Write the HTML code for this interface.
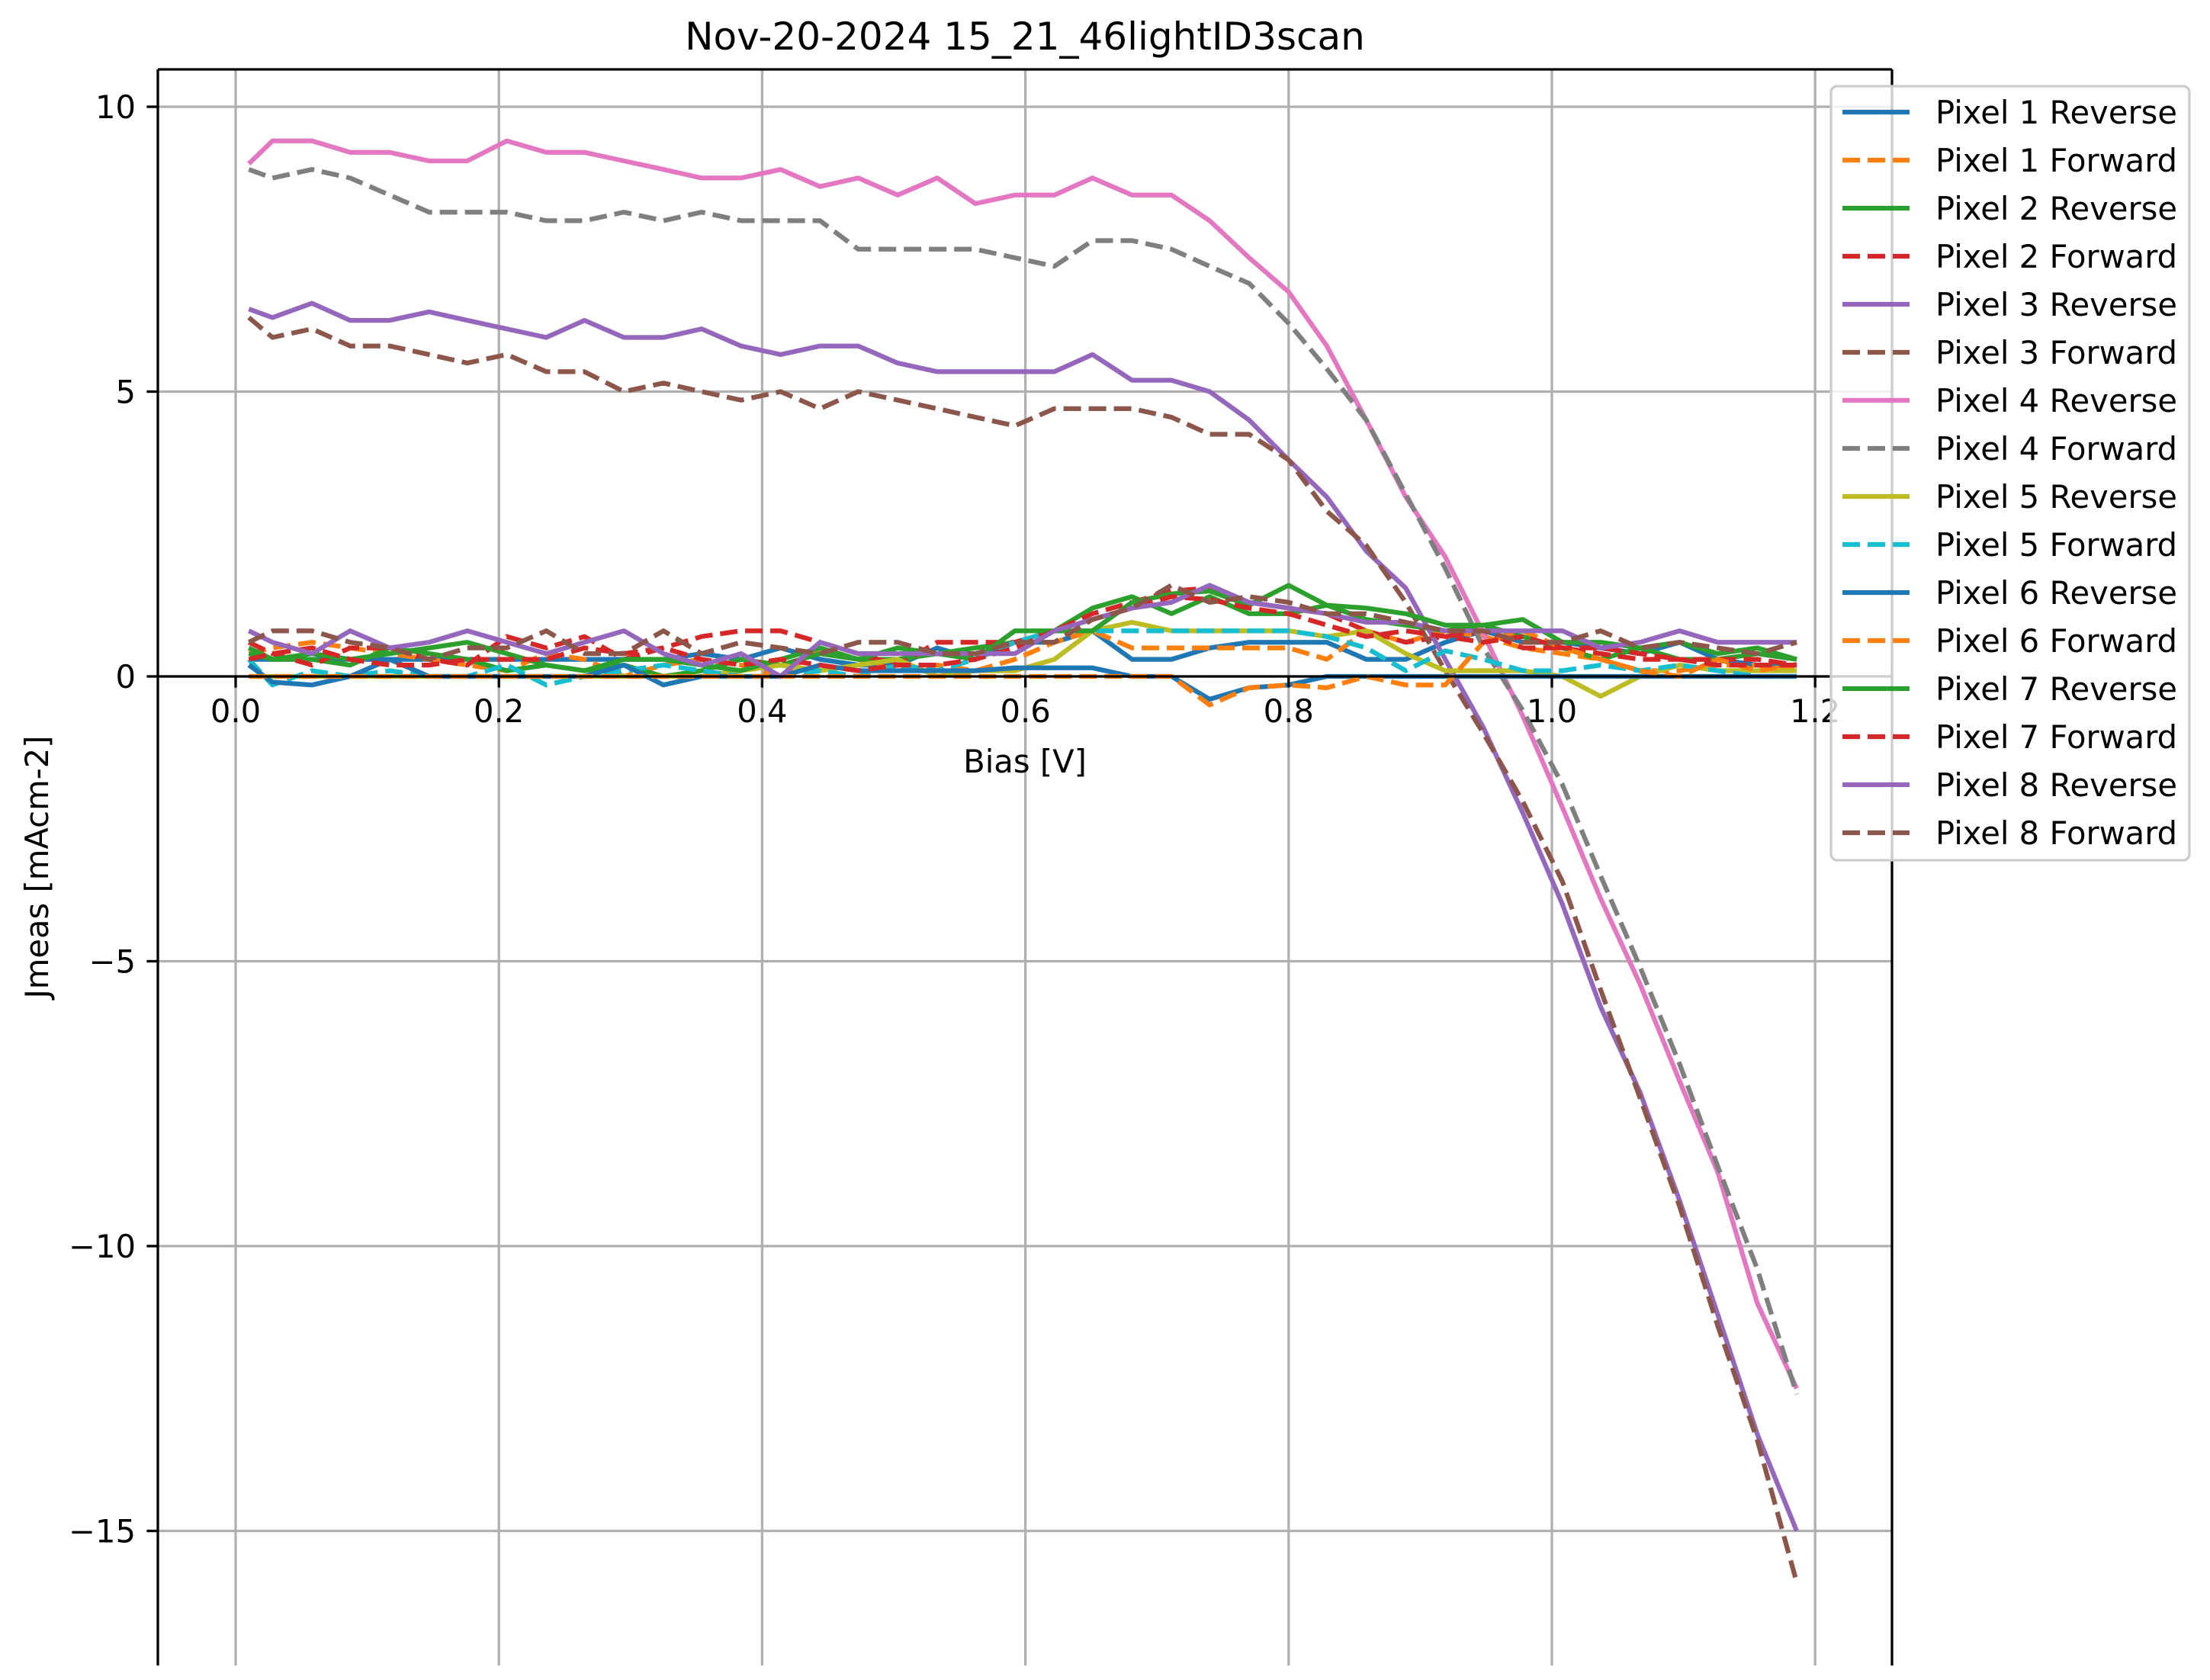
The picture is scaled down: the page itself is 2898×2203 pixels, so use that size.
<!DOCTYPE html>
<html><head><meta charset="utf-8"><style>
html,body{margin:0;padding:0;background:#fff;}
svg{display:block;font-family:"DejaVu Sans","Liberation Sans",sans-serif;}
</style></head><body>
<svg id="chart" width="2898" height="2203" viewBox="0 0 2898 2203" xmlns="http://www.w3.org/2000/svg"></svg>
<script>
const biasV=[0.01,0.028,0.058,0.087,0.117,0.147,0.176,0.206,0.236,0.265,0.295,0.325,0.354,0.384,0.414,0.444,0.473,0.503,0.533,0.562,0.592,0.622,0.651,0.681,0.711,0.740,0.770,0.800,0.829,0.859,0.889,0.919,0.948,0.978,1.008,1.037,1.067,1.097,1.126,1.156,1.186];
const p1Rev=[0.3,0.3,0.3,0.3,0.3,0.3,0.3,0.3,0.3,0.3,0.3,0.3,0.4,0.3,0.5,0.3,0.2,0.2,0.5,0.3,0.6,0.6,0.8,0.3,0.3,0.5,0.6,0.6,0.6,0.3,0.3,0.6,0.8,0.6,0.6,0.5,0.4,0.6,0.3,0.2,0.2];
const p1Fwd=[0.4,0.5,0.6,0.5,0.4,0.3,0.2,0.1,0.4,0.3,0.0,0.2,0.3,0.2,0.0,0.5,0.3,0.1,0.2,0.1,0.3,0.6,0.8,0.5,0.5,0.5,0.5,0.5,0.3,0.8,0.6,0.8,0.7,0.5,0.4,0.3,0.1,0.1,0.2,0.2,0.1];
const p2Rev=[0.4,0.3,0.3,0.2,0.5,0.4,0.3,0.1,0.2,0.1,0.2,0.0,0.1,0.3,0.2,0.4,0.3,0.3,0.4,0.5,0.6,0.8,1.2,1.4,1.1,1.4,1.1,1.1,1.25,1.0,0.9,0.8,0.9,0.7,0.5,0.3,0.5,0.3,0.3,0.4,0.3];
const p2Fwd=[0.6,0.4,0.2,0.5,0.5,0.3,0.2,0.7,0.5,0.7,0.3,0.5,0.7,0.8,0.8,0.6,0.4,0.2,0.6,0.6,0.6,0.8,1.1,1.3,1.5,1.55,1.3,1.2,1.1,0.8,0.6,0.7,0.8,0.5,0.5,0.4,0.3,0.3,0.3,0.3,0.2];
const p3Rev=[6.45,6.3,6.55,6.25,6.25,6.4,6.25,6.1,5.95,6.25,5.95,5.95,6.1,5.8,5.65,5.8,5.8,5.5,5.35,5.35,5.35,5.35,5.65,5.2,5.2,5.0,4.5,3.8,3.15,2.2,1.55,0.3,-0.9,-2.4,-4.0,-5.8,-7.3,-9.2,-11.2,-13.3,-15.0];
const p3Fwd=[6.3,5.95,6.1,5.8,5.8,5.65,5.5,5.65,5.35,5.35,5.0,5.15,5.0,4.85,5.0,4.7,5.0,4.85,4.7,4.55,4.4,4.7,4.7,4.7,4.55,4.25,4.25,3.8,2.9,2.3,1.3,0.1,-1.0,-2.2,-3.6,-5.5,-7.4,-9.3,-11.4,-13.4,-15.9];
const p4Rev=[9.0,9.4,9.4,9.2,9.2,9.05,9.05,9.4,9.2,9.2,9.05,8.9,8.75,8.75,8.9,8.6,8.75,8.45,8.75,8.3,8.45,8.45,8.75,8.45,8.45,8.0,7.35,6.75,5.8,4.5,3.15,2.1,0.75,-0.7,-2.3,-3.9,-5.4,-7.1,-8.7,-11.0,-12.5];
const p4Fwd=[8.9,8.75,8.9,8.75,8.45,8.15,8.15,8.15,8.0,8.0,8.15,8.0,8.15,8.0,8.0,8.0,7.5,7.5,7.5,7.5,7.35,7.2,7.65,7.65,7.5,7.2,6.9,6.2,5.4,4.5,3.2,1.9,0.5,-0.6,-1.9,-3.5,-5.1,-6.8,-8.6,-10.4,-12.6];
const p5Rev=[0.0,0.0,0.0,0.0,0.0,0.0,0.0,0.0,0.0,0.0,0.0,0.0,0.0,0.1,0.2,0.1,0.2,0.3,0.0,0.1,0.1,0.3,0.8,0.95,0.8,0.8,0.8,0.8,0.7,0.8,0.4,0.1,0.1,0.1,0.0,-0.35,0.0,0.2,0.1,0.1,0.1];
const p5Fwd=[0.3,-0.15,0.1,0.0,0.1,0.0,0.0,0.2,-0.15,0.0,0.1,0.2,0.1,0.0,0.0,0.1,0.0,0.2,0.1,0.3,0.6,0.8,0.8,0.8,0.8,0.8,0.8,0.8,0.7,0.5,0.1,0.45,0.3,0.1,0.1,0.2,0.1,0.2,0.1,0.0,0.0];
const p6Rev=[0.2,-0.1,-0.15,0.0,0.3,0.0,0.0,0.0,0.0,0.0,0.2,-0.15,0.0,0.0,0.0,0.2,0.1,0.1,0.1,0.1,0.15,0.15,0.15,0.0,0.0,-0.4,-0.2,-0.15,0.0,0.0,0.0,0.0,0.0,0.0,0.0,0.0,0.0,0.0,0.0,0.0,0.0];
const p6Fwd=[0.0,0.0,0.0,0.0,0.0,0.0,0.0,0.0,0.0,0.0,0.0,0.0,0.0,0.0,0.0,0.0,0.0,0.0,0.0,0.0,0.0,0.0,0.0,0.0,0.0,-0.5,-0.2,-0.15,-0.2,0.0,-0.15,-0.15,0.6,0.8,0.5,0.3,0.1,0.0,0.3,0.1,0.2];
const p7Rev=[0.5,0.3,0.4,0.3,0.4,0.5,0.6,0.4,0.2,0.1,0.3,0.3,0.2,0.1,0.3,0.5,0.3,0.5,0.4,0.3,0.8,0.8,0.8,1.3,1.45,1.5,1.25,1.6,1.25,1.2,1.1,0.9,0.9,1.0,0.6,0.6,0.5,0.6,0.4,0.5,0.3];
const p7Fwd=[0.3,0.4,0.5,0.3,0.2,0.2,0.3,0.3,0.3,0.5,0.4,0.5,0.3,0.2,0.3,0.2,0.1,0.2,0.2,0.3,0.5,0.8,1.0,1.2,1.4,1.35,1.2,1.1,0.9,0.7,0.8,0.7,0.6,0.7,0.5,0.5,0.4,0.3,0.2,0.2,0.2];
const p8Rev=[0.8,0.6,0.4,0.8,0.5,0.6,0.8,0.6,0.4,0.6,0.8,0.4,0.2,0.4,0.0,0.6,0.4,0.4,0.4,0.4,0.4,0.8,1.0,1.2,1.3,1.6,1.3,1.2,1.1,0.95,0.95,0.8,0.8,0.8,0.8,0.5,0.6,0.8,0.6,0.6,0.6];
const p8Fwd=[0.6,0.8,0.8,0.6,0.5,0.3,0.5,0.5,0.8,0.4,0.4,0.8,0.4,0.6,0.5,0.4,0.6,0.6,0.4,0.4,0.6,0.6,1.0,1.2,1.6,1.3,1.4,1.3,1.1,1.1,0.95,0.8,0.8,0.6,0.6,0.8,0.5,0.6,0.5,0.4,0.6];
const seriesNames=["Pixel 1 Reverse","Pixel 1 Forward","Pixel 2 Reverse","Pixel 2 Forward","Pixel 3 Reverse","Pixel 3 Forward","Pixel 4 Reverse","Pixel 4 Forward","Pixel 5 Reverse","Pixel 5 Forward","Pixel 6 Reverse","Pixel 6 Forward","Pixel 7 Reverse","Pixel 7 Forward","Pixel 8 Reverse","Pixel 8 Forward"];
const seriesData=[p1Rev,p1Fwd,p2Rev,p2Fwd,p3Rev,p3Fwd,p4Rev,p4Fwd,p5Rev,p5Fwd,p6Rev,p6Fwd,p7Rev,p7Fwd,p8Rev,p8Fwd];
const xTicks=[0.0,0.2,0.4,0.6,0.8,1.0,1.2];
const xTickLabels=["0.0","0.2","0.4","0.6","0.8","1.0","1.2"];
const yTicks=[10,5,0,-5,-10,-15];
const yTickLabels=["10","5","0","\u22125","\u221210","\u221215"];

const colors=["#1f77b4","#ff7f0e","#2ca02c","#d62728","#9467bd","#8c564b","#e377c2","#7f7f7f","#bcbd22","#17becf","#1f77b4","#ff7f0e","#2ca02c","#d62728","#9467bd","#8c564b"];
const NS="http://www.w3.org/2000/svg";
const svg=document.getElementById('chart');
const L=207,R=2481,T=91,B=2184;
const x0=309,xPer=1726, y0=887,yPer=74.7;
function xs(v){return x0+v*xPer;}
function ys(v){return y0-v*yPer;}
function mk(tag,attrs){const e=document.createElementNS(NS,tag);for(const k in attrs)e.setAttribute(k,attrs[k]);return e;}
function txt(s,attrs){const e=mk('text',attrs);e.textContent=s;return e;}

const clip=mk('clipPath',{id:'plotclip'});clip.appendChild(mk('rect',{x:L,y:T,width:R-L,height:B-T}));
const defs=mk('defs',{});defs.appendChild(clip);svg.appendChild(defs);

const grid=mk('g',{});


svg.appendChild(grid);
xTicks.forEach(v=>{const l=mk('line',{x1:xs(v),x2:xs(v),y1:T,y2:B,stroke:'#b0b0b0','stroke-width':3.3});


grid.appendChild(l);});
yTicks.forEach(v=>{const l=mk('line',{x1:L,x2:R,y1:ys(v),y2:ys(v),stroke:'#b0b0b0','stroke-width':3.3});


grid.appendChild(l);});

const lines=mk('g',{'clip-path':'url(#plotclip)'});


svg.appendChild(lines);
seriesData.forEach((arr,i)=>{
  const n=Math.min(arr.length,biasV.length);
  let d='';
  for(let k=0;k<n;k++){d+=(k?'L':'M')+xs(biasV[k]).toFixed(1)+','+ys(arr[k]).toFixed(1);}
  const p=mk('path',{d:d,fill:'none',stroke:colors[i],'stroke-width':6.25,'stroke-linejoin':'round'});
  if(i%2===1)p.setAttribute('stroke-dasharray','23 10');
  
  
  lines.appendChild(p);
});

const axes=mk('g',{stroke:'#000','stroke-width':3.3,fill:'none'});


svg.appendChild(axes);
axes.appendChild(mk('line',{x1:L,x2:L,y1:T,y2:B}));
axes.appendChild(mk('line',{x1:R,x2:R,y1:T,y2:B}));
axes.appendChild(mk('line',{x1:L,x2:R,y1:T,y2:T}));
axes.appendChild(mk('line',{x1:L,x2:R,y1:y0,y2:y0}));

const xt=mk('g',{});


svg.appendChild(xt);
xTicks.forEach((v,i)=>{
  xt.appendChild(mk('line',{x1:xs(v),x2:xs(v),y1:y0,y2:y0+14.6,stroke:'#000','stroke-width':3.3}));
  const t=txt(xTickLabels[i],{x:xs(v),y:y0+60,'font-size':41.7,'text-anchor':'middle',fill:'#000'});
  
  
  xt.appendChild(t);
});
const yt=mk('g',{});


svg.appendChild(yt);
yTicks.forEach((v,i)=>{
  yt.appendChild(mk('line',{x1:L-14.6,x2:L,y1:ys(v),y2:ys(v),stroke:'#000','stroke-width':3.3}));
  const t=txt(yTickLabels[i],{x:L-29,y:ys(v)+15,'font-size':41.7,'text-anchor':'end',fill:'#000'});
  
  
  yt.appendChild(t);
});

const xl=txt('Bias [V]',{x:1344,y:1013,'font-size':41.7,'text-anchor':'middle',fill:'#000'});


svg.appendChild(xl);
const yl=txt('Jmeas [mAcm-2]',{x:0,y:0,'font-size':41.7,'text-anchor':'middle',fill:'#000',transform:'translate(63,1137) rotate(-90)'});


svg.appendChild(yl);
const ti=txt('Nov-20-2024 15_21_46lightID3scan',{x:1344,y:65,'font-size':50,'text-anchor':'middle',fill:'#000'});


svg.appendChild(ti);

const lg=mk('g',{});


svg.appendChild(lg);
lg.appendChild(mk('rect',{x:2401,y:113,width:470,height:1015,rx:8,fill:'#fff','fill-opacity':0.8,stroke:'#cccccc','stroke-width':3.3}));
seriesNames.forEach((nm,i)=>{
  const yy=147+i*63;
  const g=mk('g',{});
  
  
  const l=mk('line',{x1:2416,x2:2504,y1:yy,y2:yy,stroke:colors[i],'stroke-width':6.25});
  if(i%2===1)l.setAttribute('stroke-dasharray','23 10');
  g.appendChild(l);
  g.appendChild(txt(nm,{x:2538,y:yy+15,'font-size':41.7,fill:'#000'}));
  lg.appendChild(g);
});
</script>
</body></html>
